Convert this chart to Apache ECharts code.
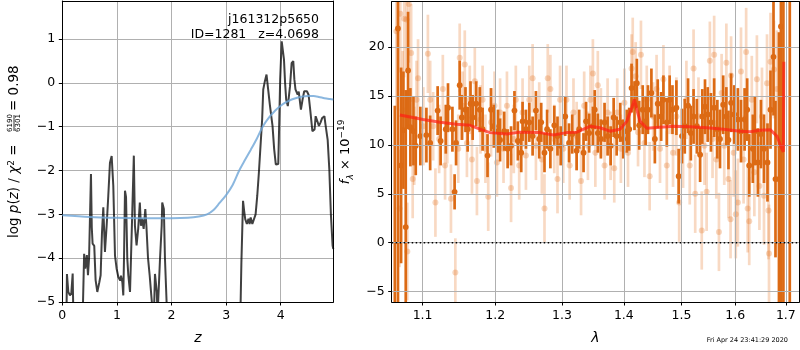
<!DOCTYPE html>
<html><head><meta charset="utf-8">
<script src="https://cdn.jsdelivr.net/npm/echarts@6/dist/echarts.min.js"></script>
<style>html,body{margin:0;padding:0;background:#fff}#c{width:800px;height:350px}</style>
</head><body><div id="c"></div>
<script>
// ---------- Left panel: redshift probability ----------
const zTicks = [0, 1, 2, 3, 4];
const pzTicks = [-5, -4, -3, -2, -1, 0, 1];
const zGrid = [0.0,0.07,0.085,0.11,0.14,0.165,0.19,0.205,0.25,0.35,0.37,0.40,0.42,0.45,0.47,0.49,0.525,0.54,0.555,0.585,0.61,0.641,0.678,0.702,0.727,0.751,0.781,0.812,0.842,0.873,0.904,0.934,0.965,0.995,1.026,1.06,1.075,1.10,1.117,1.13,1.148,1.167,1.19,1.209,1.24,1.258,1.283,1.31,1.33,1.36,1.39,1.42,1.44,1.46,1.49,1.52,1.54,1.57,1.60,1.63,1.66,1.68,1.697,1.73,1.745,1.765,1.79,1.82,1.83,1.86,1.88,1.91,1.93,3.2,3.255,3.266,3.28,3.31,3.33,3.35,3.38,3.41,3.43,3.45,3.48,3.51,3.54,3.57,3.60,3.63,3.66,3.68,3.71,3.74,3.77,3.80,3.82,3.85,3.88,3.91,3.94,3.955,3.97,3.99,4.018,4.04,4.06,4.08,4.10,4.13,4.17,4.20,4.23,4.25,4.27,4.31,4.33,4.37,4.40,4.43,4.48,4.51,4.54,4.58,4.62,4.64,4.67,4.70,4.73,4.76,4.80,4.82,4.86,4.89,4.92,4.95,4.963];
const logPz = [-8,-6,-4.36,-4.77,-4.85,-4.8,-4.35,-5.5,-8,-8,-5.5,-3.9,-4.24,-3.93,-4.39,-4.0,-2.08,-3.3,-3.67,-3.72,-4.5,-4.77,-4.55,-4.39,-3.41,-2.84,-3.86,-3.26,-2.58,-1.82,-1.67,-2.35,-3.94,-4.24,-4.43,-4.51,-4.4,-4.55,-4.85,-4.0,-2.46,-2.6,-4.0,-4.39,-4.77,-4.0,-2.88,-1.66,-3.26,-3.71,-3.33,-2.73,-3.26,-3.1,-3.33,-2.88,-3.26,-4.0,-4.39,-4.85,-5.3,-5.2,-4.36,-4.77,-5.3,-5.3,-4.0,-3.26,-2.73,-2.88,-4.0,-5.0,-8,-8,-6,-5.0,-4.09,-2.69,-2.92,-3.11,-3.22,-3.1,-3.22,-3.07,-3.22,-3.26,-3.0,-2.58,-2.05,-1.44,-0.83,-0.15,0.04,0.19,-0.15,-0.49,-0.53,-0.98,-1.51,-1.86,-1.9,-1.85,-1.06,0.08,0.95,0.98,0.53,0.0,-0.38,-0.53,-0.08,0.45,0.5,0.08,-0.15,-0.27,-0.2,-0.61,-0.38,-0.19,-0.19,-0.27,-0.61,-1.1,-1.06,-0.76,-0.8,-0.98,-0.9,-0.8,-0.76,-0.95,-1.3,-1.97,-3.03,-3.71,-3.79];
const zPrior = [0,0.5,1,1.5,2,2.3,2.5,2.65,2.77,2.88,3.0,3.12,3.24,3.35,3.45,3.56,3.67,3.78,3.9,4.0,4.1,4.2,4.3,4.4,4.5,4.6,4.7,4.8,4.9,4.963];
const logPrior = [-3.02,-3.06,-3.08,-3.09,-3.09,-3.08,-3.05,-3.0,-2.9,-2.74,-2.56,-2.33,-2.0,-1.75,-1.53,-1.28,-1.0,-0.8,-0.63,-0.52,-0.44,-0.38,-0.34,-0.31,-0.3,-0.3,-0.32,-0.35,-0.37,-0.38];

// ---------- Right panel: spectrum ----------
const lamTicks = [1.1, 1.2, 1.3, 1.4, 1.5, 1.6, 1.7];
const fluxTicks = [-5, 0, 5, 10, 15, 20];
const darkWave = [
1.064,1.068,1.072,1.075,1.078,1.081,1.084,1.088,1.091,1.097,
1.105,1.110,1.120,1.124,1.131,1.134,1.140,1.143,1.145,1.150,
1.153,1.158,1.161,1.165,1.168,1.173,1.178,1.182,1.189,1.194,
1.198,1.204,1.207,1.213,1.218,1.223,1.228,1.233,1.238,1.240,
1.245,1.250,1.255,1.260,1.265,1.268,1.273,1.277,1.282,1.288,
1.293,1.298,1.305,1.311,1.316,1.323,1.327,1.334,1.338,1.343,
1.349,1.352,1.357,1.362,1.368,1.373,1.378,1.383,1.388,1.394,
1.399,1.405,1.409,1.413,1.418,1.422,1.426,1.432,1.437,1.441,
1.447,1.453,1.458,1.464,1.468,1.474,1.479,1.484,1.491,1.495,
1.501,1.506,1.512,1.517,1.522,1.528,1.534,1.538,1.543,1.548,
1.554,1.560,1.566,1.571,1.577,1.583,1.587,1.592,1.598,1.605,
1.611,1.618,1.623,1.627,1.634,1.638,1.644,1.650,1.656,1.663,
1.669,1.675,1.679,1.686,1.690,1.695,1.708];
const darkFlux = [
-8,21.9,7.9,11.5,1.6,17.6,11.8,11.4,9.9,10.9,
11.0,10.2,13.5,10.4,11.6,13.8,11.6,5.2,10.2,16.1,
12.8,13.6,11.6,14.2,12.8,14.2,13.6,11.6,8.9,13.6,
11.9,11.4,10.5,11.4,9.6,9.9,13.5,10.4,9.2,12.4,
11.6,12.3,10.9,13.5,10.6,12.3,9.2,11.6,9.6,12.0,
10.9,9.9,12.9,10.2,11.1,9.4,11.6,9.2,12.4,11.2,
11.9,13.6,11.2,10.6,12.3,10.9,9.9,12.8,10.9,12.3,
10.6,11.4,11.6,15.8,14.0,16.3,12.0,13.6,12.4,13.6,
15.3,10.6,14.2,12.9,14.6,12.3,14.6,13.6,13.8,6.8,
10.9,11.9,14.0,11.2,12.9,11.9,9.0,12.9,13.9,13.1,
12.3,13.8,11.6,10.6,14.1,12.9,10.5,14.3,13.1,12.6,
11.4,12.6,13.6,7.9,9.6,11.4,8.2,11.1,9.6,8.2,
13.6,19.0,6.5,6.5,22.1,30,-10];
const darkErr = [
22,30,10,6,14,6,4,3.5,3,3,
2.8,2.8,2.5,2.5,2.5,2.5,2.3,1.8,2.3,2.5,
2.3,2.3,2.3,2.3,2.3,2.3,2.3,2.2,2.2,2.2,
2.2,2.2,2.2,2,2,2,2,2,2,2,
2,2,2,2,2,2,2,2,2,2,
2,2,2,2,2,2,2,2,2,2,
2,2,2,2,2,2,2,2,2,2,
2,2.2,2.2,2.5,2.5,2.5,2.5,2.5,2.5,2.5,
2.5,2.5,2.5,2.5,2.5,2.5,2.5,2.5,2.8,2.8,
2.8,2.8,2.8,2.8,2.8,2.8,2.8,2.8,2.8,2.8,
3,3,3,3,3,3,3,3,3,3.2,
3.2,3.2,3.2,3.2,3.5,3.5,3.5,3.5,3.5,4,
4,6,8,15,30,40,40];
const lightWave = [
1.066,1.070,1.071,1.074,1.076,1.080,1.079,1.082,1.085,1.087,
1.089,1.092,1.094,1.101,1.107,1.110,1.114,1.117,1.122,1.127,
1.130,1.133,1.138,1.144,1.148,1.150,1.154,1.157,1.160,1.164,
1.167,1.171,1.174,1.179,1.182,1.186,1.190,1.194,1.199,1.2025,
1.207,1.212,1.217,1.223,1.227,1.230,1.235,1.240,1.245,1.250,
1.255,1.260,1.265,1.269,1.273,1.278,1.282,1.288,1.293,1.297,
1.302,1.307,1.312,1.318,1.323,1.330,1.335,1.341,1.345,1.349,
1.353,1.357,1.362,1.368,1.373,1.378,1.384,1.389,1.395,1.401,
1.407,1.413,1.415,1.420,1.424,1.429,1.435,1.439,1.444,1.450,
1.456,1.462,1.468,1.474,1.479,1.485,1.491,1.496,1.503,1.509,
1.515,1.522,1.525,1.531,1.537,1.542,1.546,1.552,1.557,1.560,
1.564,1.569,1.574,1.579,1.583,1.587,1.591,1.592,1.597,1.601,
1.605,1.611,1.616,1.621,1.624,1.627,1.632,1.637,1.642,1.647,
1.652,1.656,1.662,1.665,1.666,1.669,1.676,1.682];
const lightFlux = [
21.6,3.5,23.4,13.6,22.9,-0.9,22.8,24.4,19.4,6.5,
9.9,14.6,16.8,11.9,19.3,14.6,11.9,4.1,10.6,15.7,
7.9,11.6,4.5,-3.05,9.6,18.9,14.0,18.2,10.2,14.6,
8.5,16.5,6.3,12.6,14.6,9.6,4.7,12.3,14.0,8.2,
13.3,9.6,14.0,5.6,10.6,14.6,7.9,13.3,8.9,14.6,
16.8,9.9,12.9,8.5,3.5,16.8,15.7,10.6,6.5,14.6,
9.6,14.6,7.9,13.3,10.9,6.3,14.0,9.9,14.6,17.3,
9.2,16.1,12.3,7.9,13.3,9.9,7.6,13.3,9.6,14.3,
9.2,17.8,19.5,17.0,11.3,19.2,10.2,14.6,6.8,12.9,
15.7,9.6,16.7,7.9,14.6,9.2,12.9,4.1,9.6,14.6,
7.9,17.8,5.0,12.9,1.25,9.9,5.2,18.6,10.6,19.2,
8.5,1.1,15.3,9.9,18.4,6.5,2.4,17.1,9.2,2.9,
4.1,17.5,8.5,19.5,3.5,2.2,14.6,7.2,16.7,5.8,
12.9,4.8,16.3,3.3,-1.1,18.5,17.7,15.7];
const lightErr = [
8,6,6,6,6,5,5,6,5,4,
4,4,4,4,4,4,3.5,3.5,3.5,3.5,
3.5,3.5,3.5,3.5,3.5,3.5,3.5,3.5,3.5,3.5,
3.5,3.5,3.5,3.5,3.5,3.5,3.5,3.5,3.5,3.5,
3.5,3.5,3.5,3.5,3.5,3.5,3.5,3.5,3.5,3.5,
3.5,3.5,3.5,3.5,3.5,3.5,3.5,3.5,3.5,3.5,
3.5,3.5,3.5,3.5,3.5,3.5,3.5,3.5,3.5,3.5,
3.5,3.5,3.5,3.5,3.5,3.5,3.5,3.5,3.5,3.5,
3.5,3.5,3.5,3.5,3.5,3.5,3.5,3.5,3.5,3.5,
3.5,3.5,3.5,3.5,3.5,3.5,4,4,4,4,
4,4,4,4,4,4,4,4,4,4,
4,4,4,4,4,4,4,4,4.5,4.5,
4.5,4.5,4.5,4.5,4.5,4.5,4.5,4.5,4.5,4.5,
5,5,5,5,5,5,5,6];
const modelWave = [1.0705,1.1007,1.1231,1.1458,1.1643,1.1783,1.1925,1.2166,1.2362,1.2662,1.2865,1.3073,1.3231,1.3444,1.3606,1.3770,1.3936,1.4049,1.4134,1.4178,1.4219,1.4276,1.4390,1.4622,1.4857,1.5158,1.5464,1.5776,1.6094,1.6288,1.6484,1.6684,1.6818,1.6918,1.6950,1.6958];
const modelFlux = [13.05,12.6,12.3,12.1,12.0,11.6,11.25,11.1,11.3,11.25,11.0,11.25,11.3,11.9,11.75,11.4,11.6,12.4,13.8,14.65,13.6,12.4,11.7,11.8,11.9,11.85,11.75,11.6,11.4,11.35,11.5,11.55,10.9,9.6,9.3,18.5];

const FONT = 'DejaVu Sans';
const lamMin = Math.log10(1.0600), lamMax = Math.log10(1.7276);
const minus = v => String(v).replace('-', '\u2212');

function errItem(col, dot, lw, r) {
  return function (params, api) {
    const cs = params.coordSys;
    const x = api.value(0), f = api.value(1), e = api.value(2);
    const t = api.coord([x, f + e]), b = api.coord([x, f - e]), c = api.coord([x, f]);
    const y1 = Math.max(t[1], cs.y), y2 = Math.min(b[1], cs.y + cs.height);
    const ch = [];
    if (y2 > y1) ch.push({ type: 'line', shape: { x1: c[0], y1: y1, x2: c[0], y2: y2 }, style: { stroke: col, lineWidth: lw } });
    if (c[1] >= cs.y && c[1] <= cs.y + cs.height) ch.push({ type: 'circle', shape: { cx: c[0], cy: c[1], r: r }, style: { fill: dot } });
    return { type: 'group', children: ch };
  };
}

function baseAxis(extra) {
  return Object.assign({
    type: 'value', z: 2,
    axisLine: { show: true, onZero: false, lineStyle: { color: '#000', width: 1 } },
    axisTick: { show: true, inside: false, length: 3.5, lineStyle: { color: '#000', width: 1 } },
    axisLabel: { color: '#000', fontFamily: FONT, fontSize: 12.5, margin: 7 },
    splitLine: { show: true, lineStyle: { color: '#b0b0b0', width: 1 } }
  }, extra);
}
function frameAxis(extra) {
  return Object.assign({
    type: 'value', z: 2,
    axisLine: { show: true, onZero: false, lineStyle: { color: '#000', width: 1 } },
    axisTick: { show: false }, axisLabel: { show: false }, splitLine: { show: false }
  }, extra);
}

const chart = echarts.init(document.getElementById('c'), null, { renderer: 'canvas' });
chart.setOption({
  animation: false,
  backgroundColor: '#fff',
  grid: [
    { left: 62.3, top: 1, width: 271, height: 302.7, containLabel: false },
    { left: 391.7, top: 1.7, width: 407.6, height: 302, containLabel: false }
  ],
  xAxis: [
    baseAxis({ gridIndex: 0, min: 0, max: 4.963,
      axisTick: { show: true, length: 3.5, customValues: zTicks, lineStyle: { color: '#000' } },
      axisLabel: { customValues: zTicks, color: '#000', fontFamily: FONT, fontSize: 12.5, margin: 7 },
      name: 'z', nameLocation: 'middle', nameGap: 29,
      nameTextStyle: { fontFamily: FONT, fontStyle: 'italic', fontSize: 14, color: '#000' } }),
    baseAxis({ gridIndex: 1, min: lamMin, max: lamMax,
      axisTick: { show: true, length: 3.5, customValues: lamTicks.map(Math.log10), lineStyle: { color: '#000' } },
      axisLabel: { customValues: lamTicks.map(Math.log10), color: '#000', fontFamily: FONT, fontSize: 12.5, margin: 7,
        formatter: v => Math.pow(10, v).toFixed(1) },
      name: '\u03bb', nameLocation: 'middle', nameGap: 29,
      nameTextStyle: { fontFamily: FONT, fontStyle: 'italic', fontSize: 14, color: '#000' } }),
    frameAxis({ gridIndex: 0, position: 'top', min: 0, max: 4.963 }),
    frameAxis({ gridIndex: 1, position: 'top', min: lamMin, max: lamMax })
  ],
  yAxis: [
    baseAxis({ gridIndex: 0, min: -5, max: 1.869,
      axisTick: { show: true, length: 3.5, customValues: pzTicks, lineStyle: { color: '#000' } },
      axisLabel: { customValues: pzTicks, color: '#000', fontFamily: FONT, fontSize: 12.5, margin: 7, formatter: minus } }),
    baseAxis({ gridIndex: 1, min: -6.06, max: 24.63,
      axisTick: { show: true, length: 3.5, customValues: fluxTicks, lineStyle: { color: '#000' } },
      axisLabel: { customValues: fluxTicks, color: '#000', fontFamily: FONT, fontSize: 12.5, margin: 7, formatter: minus },
      name: '{i|f}{sub|\u03bb} \u00d7 10{sup|\u221219}', nameLocation: 'middle', nameGap: 37, nameRotate: 90,
      nameTextStyle: { fontFamily: FONT, fontSize: 13, color: '#000', lineHeight: 18,
        rich: {
          i: { fontFamily: FONT, fontStyle: 'italic', fontSize: 13, lineHeight: 18 },
          sub: { fontFamily: FONT, fontStyle: 'italic', fontSize: 9, verticalAlign: 'bottom', lineHeight: 9 },
          sup: { fontFamily: FONT, fontSize: 9, verticalAlign: 'top', lineHeight: 9 }
        } } }),
    frameAxis({ gridIndex: 0, position: 'right', min: -5, max: 1.869 }),
    frameAxis({ gridIndex: 1, position: 'right', min: -6.06, max: 24.63 })
  ],
  series: [
    { type: 'line', xAxisIndex: 0, yAxisIndex: 0, z: 3, symbol: 'none', clip: true,
      data: zGrid.map((z, i) => [z, logPz[i]]),
      lineStyle: { color: 'rgba(0,0,0,0.75)', width: 2 } },
    { type: 'line', xAxisIndex: 0, yAxisIndex: 0, z: 3, symbol: 'none', clip: true, smooth: 0.3,
      data: zPrior.map((z, i) => [z, logPrior[i]]),
      lineStyle: { color: 'rgba(110,165,215,0.8)', width: 2 } },
    { type: 'custom', xAxisIndex: 1, yAxisIndex: 1, z: 1,
      encode: { x: 0, y: 1 },
      data: lightWave.map((w, i) => [Math.log10(w), lightFlux[i], lightErr[i]]),
      renderItem: errItem('rgba(230,120,40,0.28)', 'rgba(230,120,40,0.3)', 2.7, 3) },
    { type: 'custom', xAxisIndex: 1, yAxisIndex: 1, z: 1,
      encode: { x: 0, y: 1 },
      data: darkWave.map((w, i) => [Math.log10(w), darkFlux[i], darkErr[i]]),
      renderItem: errItem('#dc6a14', '#dc6a14', 2.7, 2.9) },
    { type: 'line', xAxisIndex: 1, yAxisIndex: 1, z: 3, symbol: 'none', clip: true,
      data: modelWave.map((w, i) => [Math.log10(w), modelFlux[i]]),
      lineStyle: { color: 'rgba(255,30,20,0.7)', width: 3 } },
    { type: 'line', xAxisIndex: 1, yAxisIndex: 1, z: 4, symbol: 'none',
      data: [[lamMin, 0], [lamMax, 0]],
      lineStyle: { color: '#000', width: 1.5, type: [1.5, 2.5] } }
  ],
  graphic: [
    { type: 'text', x: 319, y: 20, z: 10, style: { text: 'j161312p5650', fontFamily: FONT, fontSize: 12.5, fill: '#000', align: 'right', verticalAlign: 'middle' } },
    { type: 'text', x: 319, y: 35, z: 10, style: { text: 'ID=1281   z=4.0698', fontFamily: FONT, fontSize: 12.5, fill: '#000', align: 'right', verticalAlign: 'middle' } },
    { type: 'text', x: 788, y: 340, z: 10, style: { text: 'Fri Apr 24 23:41:29 2020', fontFamily: FONT, fontSize: 6.5, fill: '#000', align: 'right', verticalAlign: 'middle' } },
    { type: 'group', x: 14, y: 238, rotation: Math.PI / 2, z: 10, children: [
      { type: 'text', x: 0, y: 0, style: { text: 'log {i|p}({i|z}) / {i|\u03c7}{sup|2} =', fontFamily: FONT, fontSize: 13.5, fill: '#000', align: 'left', verticalAlign: 'middle',
          rich: { i: { fontFamily: FONT, fontStyle: 'italic', fontSize: 13.5 }, sup: { fontFamily: FONT, fontSize: 9, verticalAlign: 'top', lineHeight: 10 } } } },
      { type: 'text', x: 115, y: -4.2, style: { text: '6190', fontFamily: FONT, fontSize: 7, fill: '#000', align: 'center', verticalAlign: 'middle' } },
      { type: 'line', shape: { x1: 107, y1: 0, x2: 123, y2: 0 }, style: { stroke: '#000', lineWidth: 0.8 } },
      { type: 'text', x: 115, y: 4.6, style: { text: '6301', fontFamily: FONT, fontSize: 7, fill: '#000', align: 'center', verticalAlign: 'middle' } },
      { type: 'text', x: 127, y: 0, style: { text: '= 0.98', fontFamily: FONT, fontSize: 13.5, fill: '#000', align: 'left', verticalAlign: 'middle' } }
    ] }
  ]
});
</script></body></html>
